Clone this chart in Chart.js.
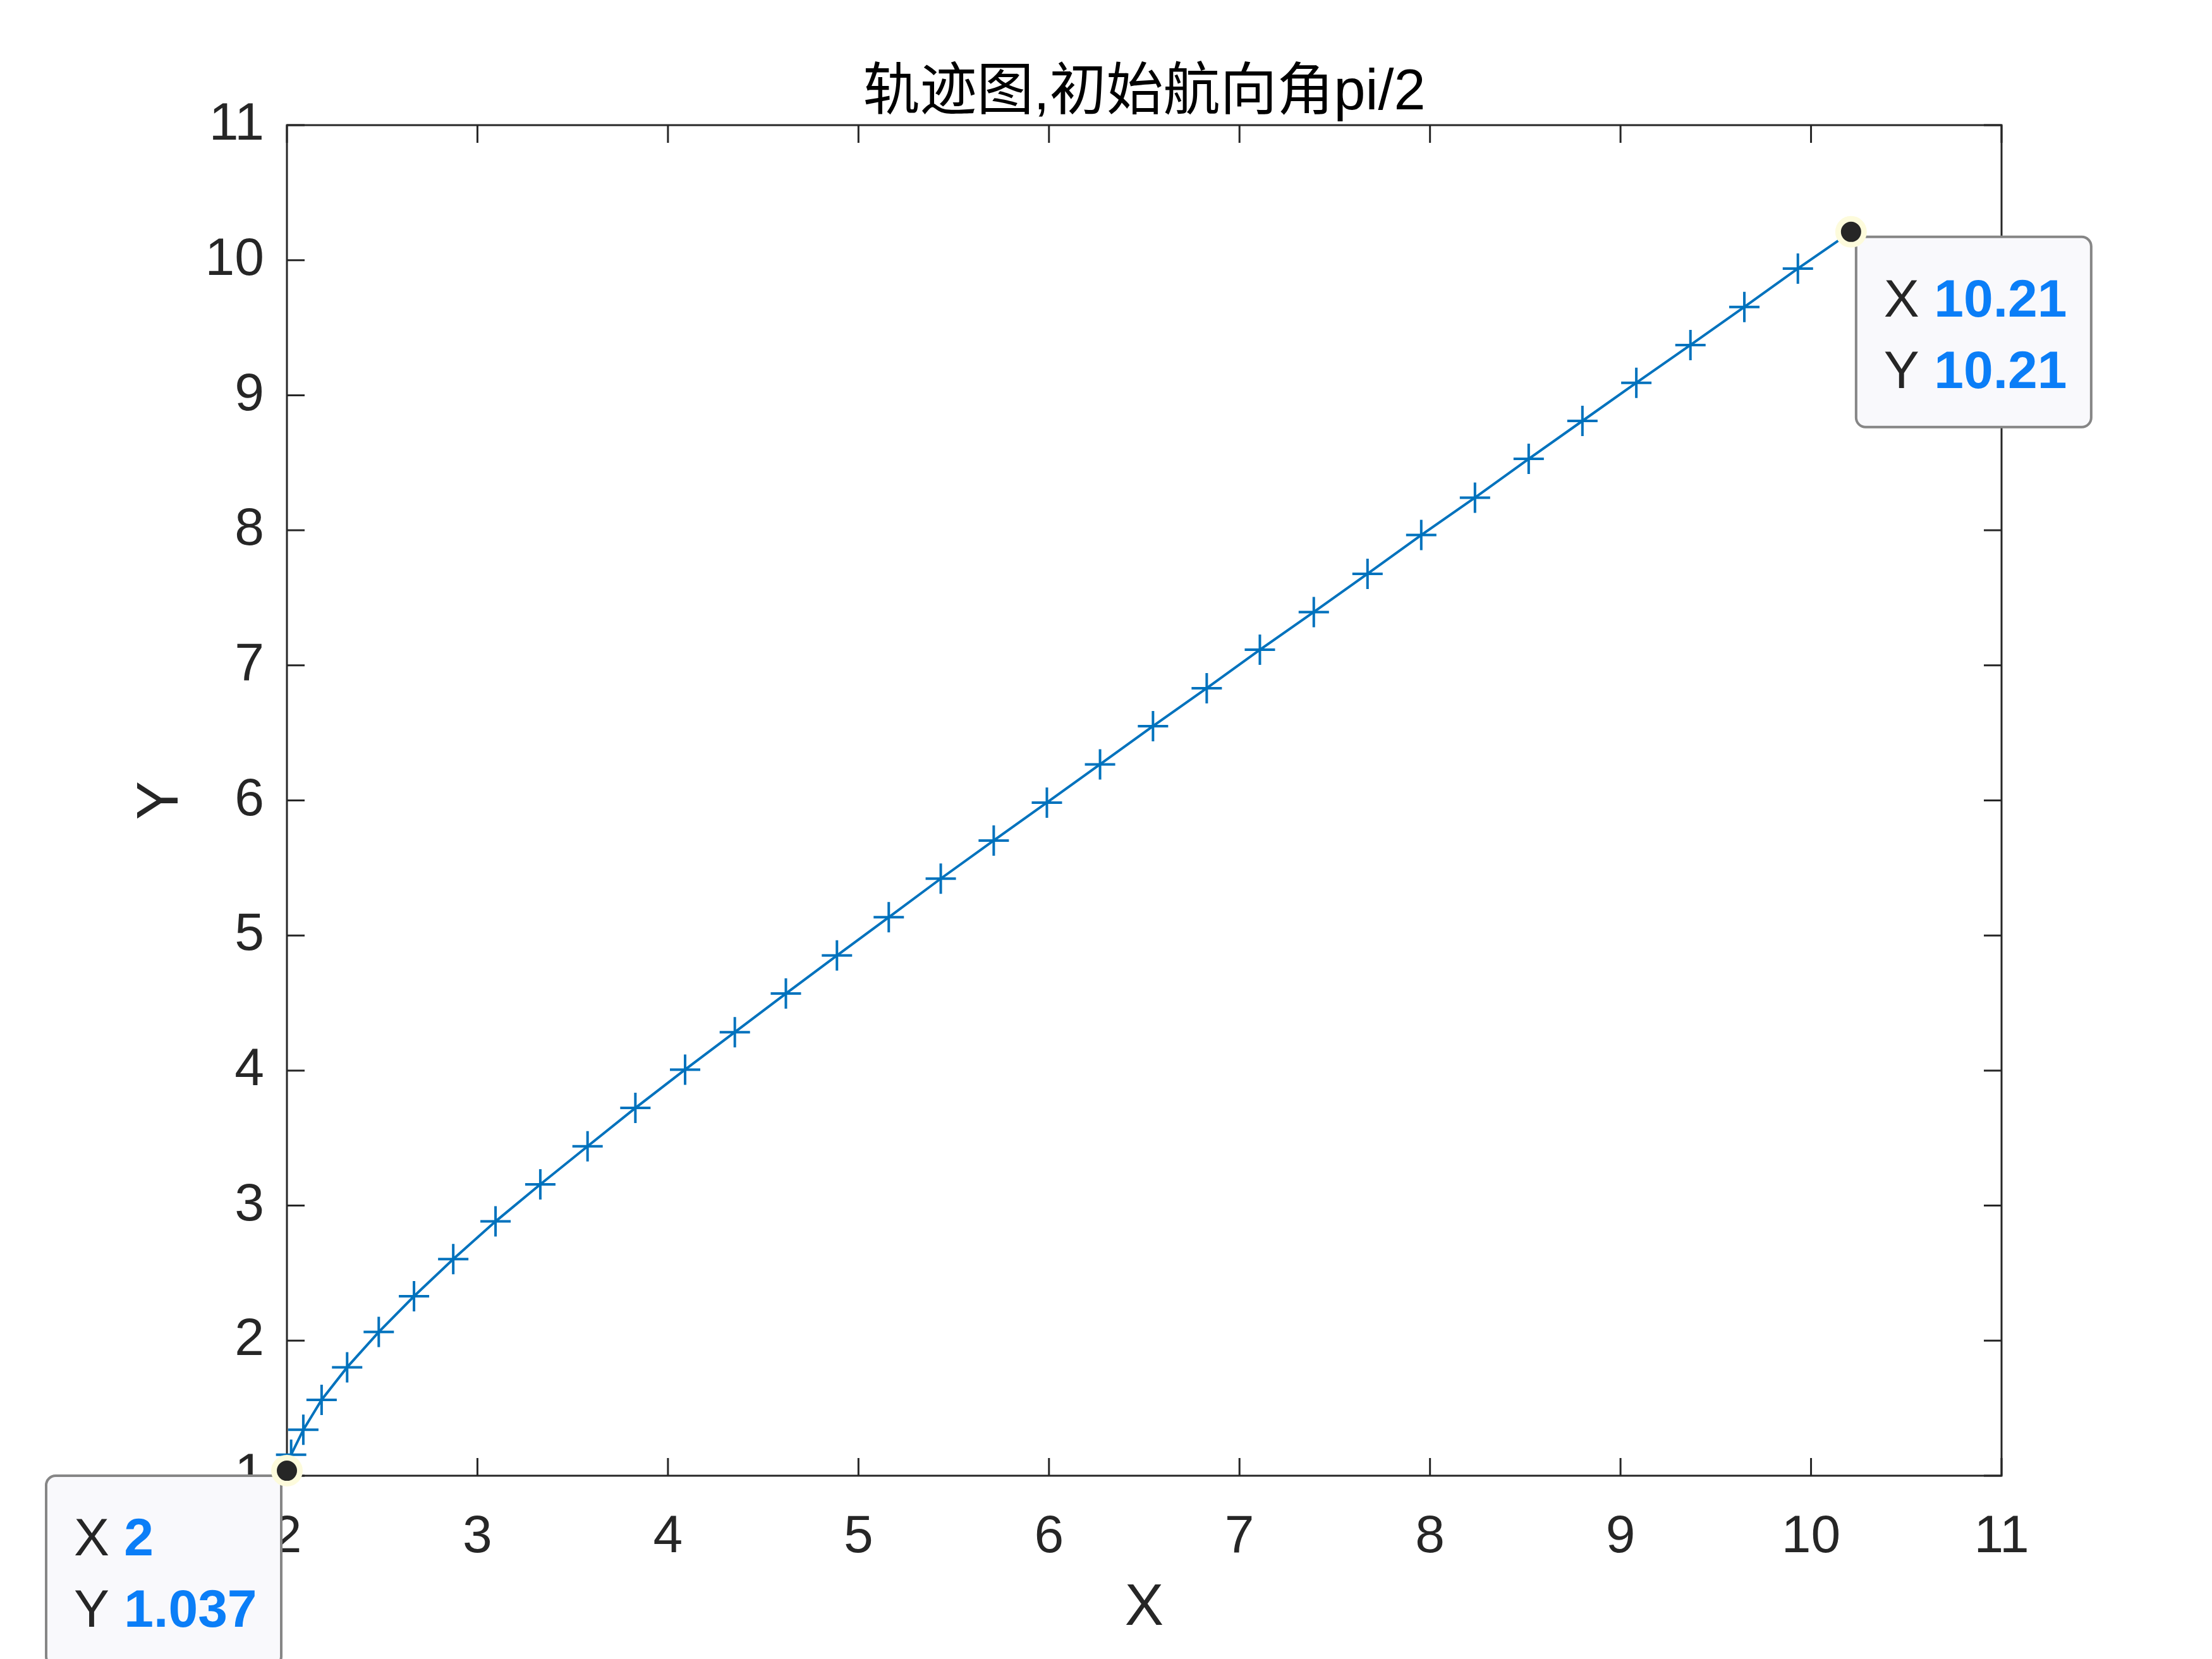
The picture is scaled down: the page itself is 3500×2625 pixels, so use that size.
<!DOCTYPE html>
<html lang="zh">
<head>
<meta charset="UTF-8">
<title>轨迹图,初始航向角pi/2</title>
<script src="https://cdn.jsdelivr.net/npm/chart.js"></script>
<style>
  html, body { margin: 0; padding: 0; background: #fff; }
  canvas { display: block; }
</style>
</head>
<body>
<canvas id="trackChart" width="3500" height="2625"></canvas>
<script>
const TITLE = "轨迹图,初始航向角pi/2";
const X_LABEL = "X";
const Y_LABEL = "Y";

const xTicks = [2, 3, 4, 5, 6, 7, 8, 9, 10, 11];
const yTicks = [1, 2, 3, 4, 5, 6, 7, 8, 9, 10, 11];

// trajectory
const trackX = [2.0, 2.022, 2.086, 2.182, 2.316, 2.482, 2.667, 2.873, 3.095, 3.330,
  3.578, 3.829, 4.090, 4.351, 4.619, 4.887, 5.159, 5.432, 5.710, 5.989,
  6.268, 6.546, 6.828, 7.107, 7.390, 7.672, 7.954, 8.236, 8.518, 8.800,
  9.083, 9.367, 9.650, 9.931, 10.21];
const trackY = [1.037, 1.156, 1.340, 1.562, 1.803, 2.064, 2.329, 2.604, 2.883, 3.157,
  3.439, 3.723, 4.007, 4.284, 4.570, 4.852, 5.135, 5.421, 5.703, 5.984,
  6.267, 6.550, 6.831, 7.116, 7.395, 7.678, 7.965, 8.242, 8.529, 8.810,
  9.092, 9.372, 9.654, 9.938, 10.21];

// data tips sit on the first and last point
const tipIndex = [0, trackX.length - 1];
const tipSide = ['left', 'right'];

const LINE_COLOR = '#0072BD';
const AXIS_COLOR = '#262626';
const TIP_BLUE = '#0b7ef7';
const TICK_LEN = 28;
const FONT = '"Liberation Sans", Arial, sans-serif';

const fmt = v => String(Number(v.toPrecision(4)));

// MATLAB style box with inward ticks on all four sides
const frameAndTicks = {
  id: 'frameAndTicks',
  beforeDatasetsDraw(chart) {
    const { ctx, chartArea: a, scales: { x, y } } = chart;
    ctx.save();
    ctx.strokeStyle = AXIS_COLOR;
    ctx.lineWidth = 3;
    ctx.strokeRect(a.left, a.top, a.right - a.left, a.bottom - a.top);
    ctx.beginPath();
    x.ticks.forEach(t => {
      const px = x.getPixelForValue(t.value);
      ctx.moveTo(px, a.bottom); ctx.lineTo(px, a.bottom - TICK_LEN);
      ctx.moveTo(px, a.top); ctx.lineTo(px, a.top + TICK_LEN);
    });
    y.ticks.forEach(t => {
      const py = y.getPixelForValue(t.value);
      ctx.moveTo(a.left, py); ctx.lineTo(a.left + TICK_LEN, py);
      ctx.moveTo(a.right, py); ctx.lineTo(a.right - TICK_LEN, py);
    });
    ctx.stroke();
    ctx.restore();
  }
};

function roundRect(ctx, x, y, w, h, r) {
  ctx.beginPath();
  ctx.moveTo(x + r, y);
  ctx.lineTo(x + w - r, y);
  ctx.arcTo(x + w, y, x + w, y + r, r);
  ctx.lineTo(x + w, y + h - r);
  ctx.arcTo(x + w, y + h, x + w - r, y + h, r);
  ctx.lineTo(x + r, y + h);
  ctx.arcTo(x, y + h, x, y + h - r, r);
  ctx.lineTo(x, y + r);
  ctx.arcTo(x, y, x + r, y, r);
  ctx.closePath();
}

// data tip boxes, drawn after the line but under the tip dots
const dataTips = {
  id: 'dataTips',
  afterDatasetDraw(chart, args) {
    if (args.index !== 0) return;
    const { ctx, scales: { x, y } } = chart;
    const boxW = 372, boxH = 301;
    ctx.save();
    tipIndex.forEach((i, k) => {
      const px = x.getPixelForValue(trackX[i]);
      const py = y.getPixelForValue(trackY[i]);
      const left = tipSide[k] === 'right' ? px + 8 : px - 9 - boxW;
      const top = py + 8;
      roundRect(ctx, left, top, boxW, boxH, 15);
      ctx.fillStyle = '#f9f9fc';
      ctx.fill();
      ctx.lineWidth = 4;
      ctx.strokeStyle = '#868686';
      ctx.stroke();

      ctx.textBaseline = 'alphabetic';
      ctx.textAlign = 'left';
      [['X', trackX[i], 126], ['Y', trackY[i], 239]].forEach(([name, val, dy]) => {
        ctx.font = '84px ' + FONT;
        ctx.fillStyle = AXIS_COLOR;
        ctx.fillText(name, left + 44, top + dy);
        const w = ctx.measureText(name + ' ').width;
        ctx.font = 'bold 84px ' + FONT;
        ctx.fillStyle = TIP_BLUE;
        ctx.fillText(fmt(val), left + 44 + w, top + dy);
      });
    });
    ctx.restore();
  }
};

new Chart(document.getElementById('trackChart'), {
  type: 'scatter',
  data: {
    datasets: [
      {
        data: trackX.map((v, i) => ({ x: v, y: trackY[i] })),
        order: 1,
        showLine: true,
        borderColor: LINE_COLOR,
        borderWidth: 4,
        tension: 0,
        pointStyle: 'cross',
        pointRadius: 24,
        pointBorderWidth: 4,
        pointBorderColor: LINE_COLOR,
        clip: false
      },
      {
        data: tipIndex.map(i => ({ x: trackX[i], y: trackY[i] })),
        order: 0,
        pointStyle: 'circle',
        pointRadius: 20.5,
        pointBackgroundColor: AXIS_COLOR,
        pointBorderColor: '#fdfbdc',
        pointBorderWidth: 9,
        clip: false
      }
    ]
  },
  options: {
    responsive: false,
    maintainAspectRatio: false,
    devicePixelRatio: 1,
    animation: false,
    events: [],
    layout: { padding: { left: 0, right: 333, top: 0, bottom: 0 } },
    plugins: {
      legend: { display: false },
      tooltip: { enabled: false },
      title: {
        display: true,
        fullSize: false,
        text: TITLE,
        color: '#000',
        font: { family: '"Liberation Sans", "Noto Sans CJK SC", sans-serif', size: 90, weight: 'normal' },
        padding: { top: 94, bottom: -4 }
      }
    },
    scales: {
      x: {
        type: 'linear',
        min: xTicks[0],
        max: xTicks[xTicks.length - 1],
        afterBuildTicks: s => { s.ticks = xTicks.map(v => ({ value: v })); },
        afterFit: s => { s.height = 290; },
        grid: { display: false, drawTicks: false },
        border: { display: false },
        ticks: { autoSkip: false, maxRotation: 0, padding: 47, color: AXIS_COLOR, font: { family: FONT, size: 84 } },
        title: { display: true, text: X_LABEL, color: AXIS_COLOR, font: { family: FONT, size: 92 }, padding: { top: 0, bottom: 24 } }
      },
      y: {
        type: 'linear',
        min: yTicks[0],
        max: yTicks[yTicks.length - 1],
        afterBuildTicks: s => { s.ticks = yTicks.map(v => ({ value: v })); },
        afterFit: s => { s.width = 454; },
        grid: { display: false, drawTicks: false },
        border: { display: false },
        ticks: { autoSkip: false, padding: 36, color: AXIS_COLOR, font: { family: FONT, size: 84 } },
        title: { display: true, text: Y_LABEL, color: AXIS_COLOR, font: { family: FONT, size: 92 }, padding: { top: 200, bottom: 0 } }
      }
    }
  },
  plugins: [frameAndTicks, dataTips]
});
</script>
</body>
</html>
